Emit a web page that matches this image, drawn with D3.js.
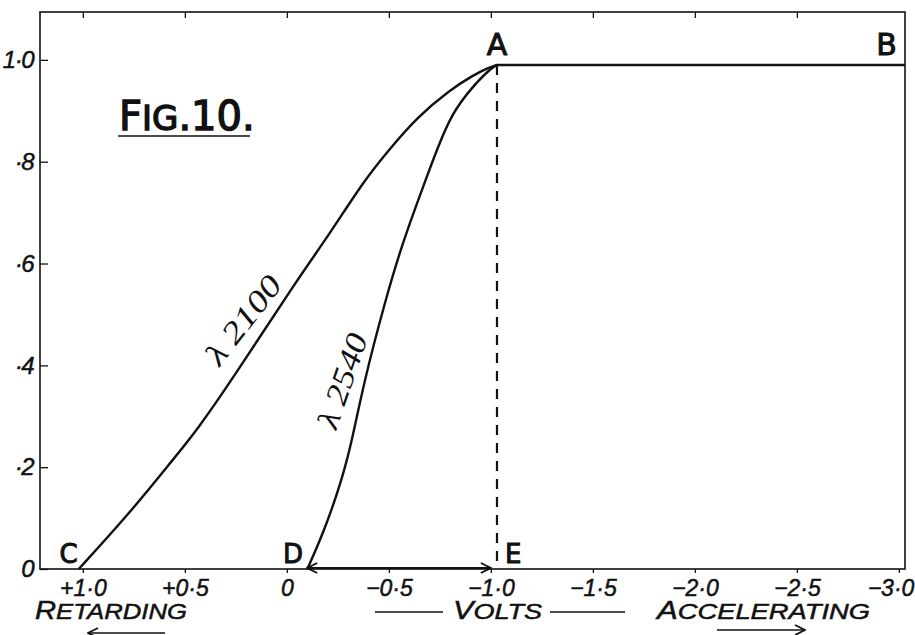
<!DOCTYPE html>
<html lang="en">
<head>
    <meta charset="UTF-8">
    <title>Fig. 10</title>
    <script src="https://d3js.org/d3.v7.min.js"></script>
    <style>
        body { margin: 0; background: #fff; }
        .tick text { font-family: "Liberation Sans", Arial, sans-serif; font-style: italic; fill: #111; stroke: #111; stroke-width: 0.5; }
    </style>
</head>
<body>
    <div id="chart"></div>

    <script>
        // volts (positive = retarding) and photo-current ratio
        const voltTicks = [1.0, 0.5, 0, -0.5, -1.0, -1.5, -2.0, -2.5, -3.0];
        const voltLabels = ["+1·0", "+0·5", "0", "−0·5", "−1·0", "−1·5", "−2·0", "−2·5", "−3·0"];
        const valueTicks = [0, 0.2, 0.4, 0.6, 0.8, 1.0];
        const valueLabels = ["0", "·2", "·4", "·6", "·8", "1·0"];

        const curve2100Volts  = [1.02, 0.77, 0.56, 0.44, 0.27, -0.06, -0.20, -0.38, -0.50, -0.64, -0.80, -0.91, -0.99, -1.03];
        const curve2100Values = [0, 0.110, 0.214, 0.273, 0.371, 0.574, 0.652, 0.764, 0.823, 0.888, 0.941, 0.969, 0.985, 0.99];

        const curve2540Volts  = [-0.10, -0.18, -0.27, -0.32, -0.38, -0.48, -0.56, -0.68, -0.735, -0.81, -0.91, -0.99, -1.03];
        const curve2540Values = [0, 0.071, 0.175, 0.253, 0.371, 0.523, 0.633, 0.764, 0.823, 0.896, 0.947, 0.980, 0.99];

        const saturationVolts  = [-1.03, -3.03];
        const saturationValues = [0.99, 0.99];
        const stoppingVolts = [-0.10, -1.0];   // D to E

        const width = 915, height = 635;
        const frame = {left: 40, right: 905, top: 12, bottom: 569};

        const x = d3.scaleLinear().domain([1.21, -3.03]).range([frame.left, frame.right]);
        const y = d3.scaleLinear().domain([0, 1.094]).range([frame.bottom, frame.top]);

        const svg = d3.select("#chart")
                      .append("svg")
                      .attr("width", width)
                      .attr("height", height)
                      .style("background", "#fff");

        const defs = svg.append("defs");
        defs.append("marker")
            .attr("id", "open-arrow")
            .attr("viewBox", "0 0 12 12")
            .attr("refX", 11)
            .attr("refY", 6)
            .attr("markerWidth", 12)
            .attr("markerHeight", 12)
            .attr("markerUnits", "userSpaceOnUse")
            .attr("orient", "auto-start-reverse")
            .append("path")
            .attr("d", "M1,1 L11,6 L1,11")
            .attr("fill", "none")
            .attr("stroke", "#111")
            .attr("stroke-width", 1.8);

        // frame
        svg.append("rect")
           .attr("x", frame.left)
           .attr("y", frame.top)
           .attr("width", frame.right - frame.left)
           .attr("height", frame.bottom - frame.top)
           .attr("fill", "none")
           .attr("stroke", "#111")
           .attr("stroke-width", 1.6);

        // axes
        const bottomAxis = svg.append("g")
           .attr("transform", `translate(0, ${frame.bottom})`)
           .call(d3.axisBottom(x).tickValues(voltTicks).tickSize(4).tickPadding(7)
                   .tickFormat((d, i) => voltLabels[i]));
        bottomAxis.selectAll("text")
           .attr("font-size", 23)
           .attr("text-anchor", (d, i) => i === voltTicks.length - 1 ? "end" : "middle")
           .attr("dx", (d, i) => i === voltTicks.length - 1 ? 15 : 0);

        svg.append("g")
           .attr("transform", `translate(0, ${frame.top})`)
           .call(d3.axisTop(x).tickValues(voltTicks.slice(0, -1)).tickSize(-6).tickFormat(""));

        const leftAxis = svg.append("g")
           .attr("transform", `translate(${frame.left}, 0)`)
           .call(d3.axisLeft(y).tickValues(valueTicks).tickSizeInner(-8).tickSizeOuter(0).tickPadding(7)
                   .tickFormat((d, i) => valueLabels[i]));
        leftAxis.selectAll("text").attr("font-size", 24).attr("letter-spacing", -1.5);

        svg.selectAll(".domain").remove();
        svg.selectAll(".tick line").attr("stroke", "#111").attr("stroke-width", 1.3);

        // curves
        const line = d3.line()
                       .x(d => x(d[0]))
                       .y(d => y(d[1]))
                       .curve(d3.curveBasis);

        const curves = [
            d3.zip(curve2100Volts, curve2100Values),
            d3.zip(curve2540Volts, curve2540Values),
            d3.zip(saturationVolts, saturationValues)
        ];

        svg.selectAll(".curve")
           .data(curves)
           .enter()
           .append("path")
           .attr("class", "curve")
           .attr("d", line)
           .attr("fill", "none")
           .attr("stroke", "#111")
           .attr("stroke-width", 2.4);

        // dashed line A-E
        svg.append("line")
           .attr("x1", x(saturationVolts[0]))
           .attr("x2", x(saturationVolts[0]))
           .attr("y1", y(saturationValues[0]))
           .attr("y2", y(0))
           .attr("stroke", "#111")
           .attr("stroke-width", 2.2)
           .attr("stroke-dasharray", "10,8");

        // D <-> E
        svg.append("line")
           .attr("x1", x(stoppingVolts[0]))
           .attr("x2", x(stoppingVolts[1]))
           .attr("y1", y(0) - 1)
           .attr("y2", y(0) - 1)
           .attr("stroke", "#111")
           .attr("stroke-width", 2)
           .attr("marker-start", "url(#open-arrow)")
           .attr("marker-end", "url(#open-arrow)");

        // point letters
        const letters = svg.append("g")
           .attr("font-family", "DejaVu Sans, sans-serif")
           .attr("fill", "#111")
           .attr("stroke", "#111")
           .attr("stroke-width", 1)
           .attr("text-anchor", "middle");
        letters.append("text").attr("x", x(-1.03)).attr("y", 55).attr("font-size", 30).text("A");
        letters.append("text").attr("x", x(-2.94)).attr("y", 55).attr("font-size", 30).text("B");
        letters.append("text").attr("x", x(1.07)).attr("y", 563).attr("font-size", 26).text("C");
        letters.append("text").attr("x", x(-0.03)).attr("y", 563).attr("font-size", 26).text("D");
        letters.append("text").attr("x", x(-1.11)).attr("y", 563).attr("font-size", 26).text("E");

        // curve labels
        const curveLabel = (text, v, val, angle, len) => {
            svg.append("text")
               .attr("transform", `translate(${x(v)}, ${y(val)}) rotate(${angle})`)
               .attr("text-anchor", "middle")
               .attr("dy", "0.35em")
               .attr("font-family", "Liberation Serif, Times New Roman, serif")
               .attr("font-style", "italic")
               .attr("font-size", 31)
               .attr("textLength", len)
               .attr("lengthAdjust", "spacingAndGlyphs")
               .attr("fill", "#111")
               .text(text);
        };
        curveLabel("λ 2100", 0.215, 0.49, -52, 104);
        curveLabel("λ 2540", -0.27, 0.37, -71, 98);

        // figure title
        const title = svg.append("text")
           .attr("x", 119)
           .attr("y", 130)
           .attr("font-family", "DejaVu Sans, sans-serif")
           .attr("fill", "#111")
           .attr("stroke", "#111")
           .attr("stroke-width", 1.4);
        title.append("tspan").attr("font-size", 40).text("F");
        title.append("tspan").attr("font-size", 34).text("IG");
        title.append("tspan").attr("font-size", 40).text(".10.");
        svg.append("line")
           .attr("x1", 118).attr("x2", 250)
           .attr("y1", 136).attr("y2", 136)
           .attr("stroke", "#111").attr("stroke-width", 1.6);

        // bottom captions
        const caption = (first, rest, px, len) => {
            const t = svg.append("text")
               .attr("x", px)
               .attr("y", 619)
               .attr("font-family", "Liberation Sans, Arial, sans-serif")
               .attr("font-style", "italic")
               .attr("fill", "#111")
               .attr("stroke", "#111")
               .attr("stroke-width", 0.5)
               .attr("textLength", len)
               .attr("lengthAdjust", "spacingAndGlyphs");
            t.append("tspan").attr("font-size", 25).text(first);
            t.append("tspan").attr("font-size", 22).text(rest);
        };
        caption("R", "ETARDING", 35, 152);
        caption("V", "OLTS", 453, 89);
        caption("A", "CCELERATING", 657, 213);

        const rule = (x1, x2, yy, marker) => {
            const l = svg.append("line")
               .attr("x1", x1).attr("x2", x2)
               .attr("y1", yy).attr("y2", yy)
               .attr("stroke", "#111").attr("stroke-width", 1.6);
            if (marker) l.attr("marker-end", "url(#open-arrow)");
        };
        rule(375, 443, 612, false);
        rule(550, 625, 612, false);
        rule(165, 88, 633, true);
        rule(717, 805, 630, true);
    </script>
</body>
</html>
